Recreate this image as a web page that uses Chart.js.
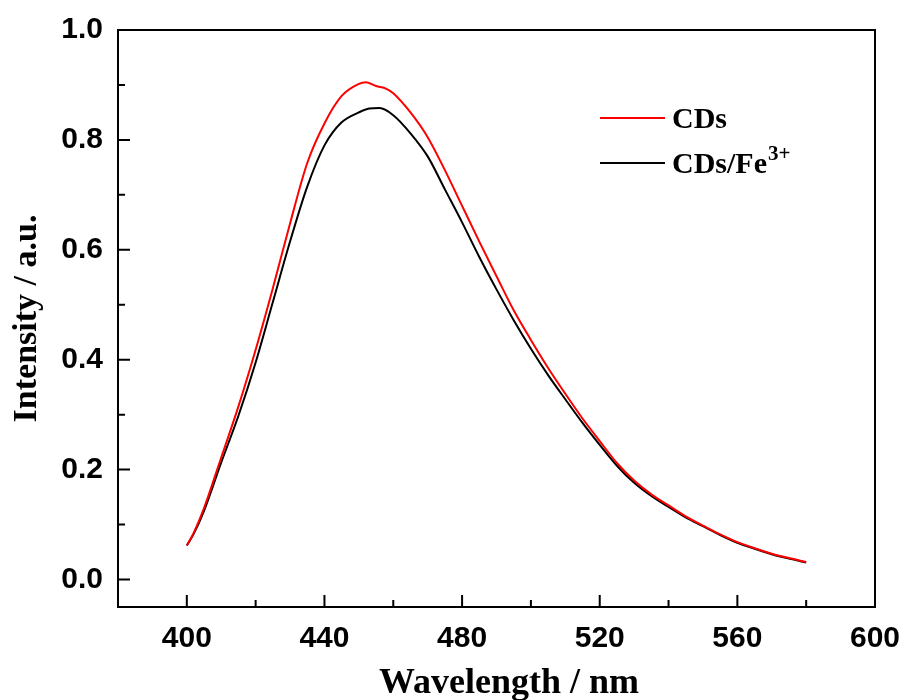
<!DOCTYPE html>
<html>
<head>
<meta charset="utf-8">
<script src="https://cdn.jsdelivr.net/npm/chart.js@4"></script>
<style>
  html, body { margin: 0; padding: 0; background: #fff; }
  #wrap { width: 905px; height: 700px; position: relative; }
</style>
</head>
<body>
<div id="wrap"><canvas id="c" width="905" height="700"></canvas></div>
<script>
const wavelengthCDs = [400,402,405,410,415,420,425,430,435,440,445,450,452,455,458,460,465,470,475,480,485,490,495,500,505,510,515,520,525,530,535,540,545,550,555,560,565,570,575,580];
const intensityCDs  = [0.062,0.085,0.130,0.222,0.315,0.418,0.530,0.648,0.758,0.830,0.880,0.902,0.905,0.898,0.893,0.885,0.850,0.805,0.745,0.680,0.615,0.552,0.490,0.436,0.385,0.338,0.293,0.252,0.212,0.180,0.155,0.135,0.115,0.098,0.082,0.068,0.057,0.047,0.039,0.032];
const wavelengthFe = [400,402,405,410,415,420,425,430,435,440,445,450,453,456,460,465,470,475,480,485,490,495,500,505,510,515,520,525,530,535,540,545,550,555,560,565,570,575,580];
const intensityFe  = [0.062,0.083,0.125,0.213,0.298,0.395,0.505,0.615,0.715,0.790,0.832,0.850,0.857,0.858,0.845,0.812,0.770,0.710,0.650,0.587,0.528,0.472,0.420,0.372,0.328,0.285,0.245,0.207,0.176,0.152,0.132,0.113,0.097,0.081,0.067,0.056,0.046,0.038,0.031];
const seriesLabels = ['CDs', 'CDs/Fe'];
const xTitle = 'Wavelength / nm';
const yTitle = 'Intensity / a.u.';

const toPts = (xs, ys) => xs.map((x, i) => ({x: x, y: ys[i]}));

const framePlugin = {
  id: 'frame',
  afterDraw(chart) {
    const {ctx, chartArea: a, scales} = chart;
    ctx.save();
    ctx.strokeStyle = '#000';
    ctx.lineWidth = 2;
    ctx.strokeRect(a.left, a.top, a.right - a.left, a.bottom - a.top);
    const xs = scales.x, ys = scales.y;
    const xt = xs.ticks.map(t => t.value);
    ctx.beginPath();
    xt.forEach(v => { const p = xs.getPixelForValue(v); ctx.moveTo(p, a.bottom); ctx.lineTo(p, a.bottom - 12); });
    for (let i = 0; i < xt.length - 1; i++) { const p = xs.getPixelForValue((xt[i] + xt[i+1]) / 2); ctx.moveTo(p, a.bottom); ctx.lineTo(p, a.bottom - 7); }
    const yt = ys.ticks.map(t => t.value);
    yt.forEach(v => { const p = ys.getPixelForValue(v); ctx.moveTo(a.left, p); ctx.lineTo(a.left + 12, p); });
    for (let i = 0; i < yt.length - 1; i++) { const p = ys.getPixelForValue((yt[i] + yt[i+1]) / 2); ctx.moveTo(a.left, p); ctx.lineTo(a.left + 7, p); }
    ctx.stroke();

    // x axis title
    ctx.fillStyle = '#000';
    ctx.font = 'bold 36px "Liberation Serif", "Times New Roman", serif';
    ctx.textAlign = 'center';
    ctx.textBaseline = 'alphabetic';
    ctx.fillText(xTitle, 509, 693);

    // legend
    const items = [
      {color: '#ff0000', y: 118, text: seriesLabels[0], sup: ''},
      {color: '#000000', y: 163, text: seriesLabels[1], sup: '3+'}
    ];
    items.forEach(it => {
      ctx.strokeStyle = it.color;
      ctx.lineWidth = 2;
      ctx.beginPath(); ctx.moveTo(600, it.y); ctx.lineTo(665, it.y); ctx.stroke();
      ctx.fillStyle = '#000';
      ctx.font = 'bold 30px "Liberation Serif", "Times New Roman", serif';
      ctx.textBaseline = 'alphabetic';
      ctx.textAlign = 'left';
      ctx.fillText(it.text, 672, it.y + 10);
      if (it.sup) {
        const w = ctx.measureText(it.text).width;
        ctx.font = 'bold 21px "Liberation Serif", "Times New Roman", serif';
        ctx.fillText(it.sup, 672 + w + 1, it.y - 3);
      }
    });
    ctx.restore();
  }
};

new Chart(document.getElementById('c'), {
  type: 'line',
  data: {
    datasets: [
      {label: seriesLabels[0], data: toPts(wavelengthCDs, intensityCDs), borderColor: '#ff0000', borderWidth: 2, pointRadius: 0, cubicInterpolationMode: 'monotone', fill: false},
      {label: seriesLabels[1] + '3+', data: toPts(wavelengthFe, intensityFe), borderColor: '#000000', borderWidth: 2, pointRadius: 0, cubicInterpolationMode: 'monotone', fill: false}
    ]
  },
  options: {
    responsive: false,
    animation: false,
    devicePixelRatio: 1,
    layout: {padding: {left: 0, right: 30, top: 30, bottom: 0}},
    plugins: {legend: {display: false}, tooltip: {enabled: false}},
    scales: {
      x: {
        type: 'linear', min: 380, max: 600,
        afterFit: s => { s.height = 93; s.paddingLeft = 0; s.paddingRight = 0; },
        grid: {display: true, drawOnChartArea: false, drawTicks: false},
        border: {display: false},
        ticks: {stepSize: 40, includeBounds: false, padding: 14, color: '#000', font: {family: '"Liberation Sans", Arial, sans-serif', size: 30, weight: 'bold'}, maxRotation: 0},
        title: {display: false, text: xTitle}
      },
      y: {
        type: 'linear', min: -0.05, max: 1.0,
        afterFit: s => { s.width = 118; s.paddingTop = 0; s.paddingBottom = 0; },
        grid: {display: true, drawOnChartArea: false, drawTicks: false},
        border: {display: false},
        ticks: {stepSize: 0.2, includeBounds: false, padding: 15, color: '#000', font: {family: '"Liberation Sans", Arial, sans-serif', size: 30, weight: 'bold'}, callback: v => Number(v).toFixed(1)},
        title: {display: true, text: yTitle, color: '#000', padding: {top: 7, bottom: 0}, font: {family: '"Liberation Serif", "Times New Roman", serif', size: 34, weight: 'bold', lineHeight: 1.2}}
      }
    }
  },
  plugins: [framePlugin]
});
</script>
</body>
</html>
